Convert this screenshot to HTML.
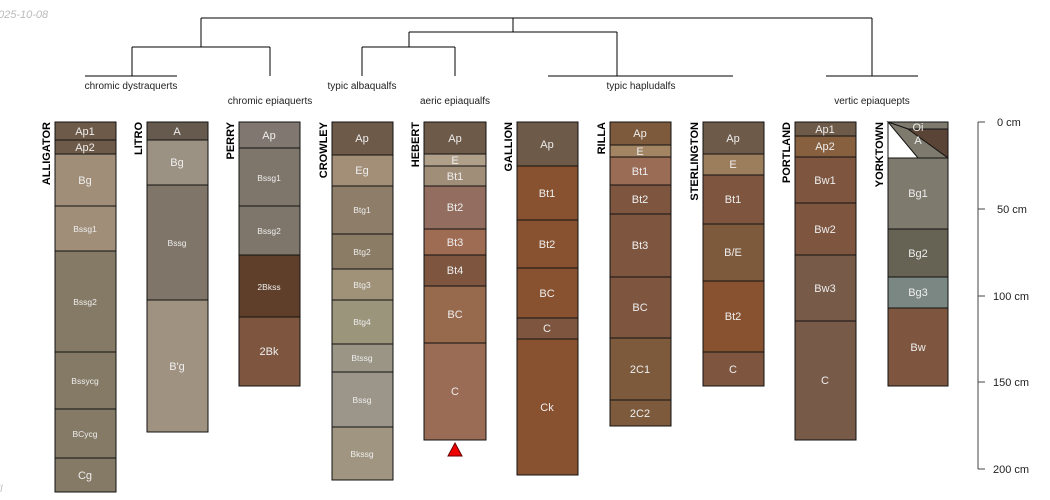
<!DOCTYPE html>
<html><head><meta charset="utf-8"><style>
body{margin:0;background:#fff}
svg{display:block;font-family:"Liberation Sans",sans-serif}
.h rect{stroke:#111;stroke-width:1}
.t{fill:#eee;font-size:11px;text-anchor:middle}
.s{fill:#eee;font-size:8.5px;text-anchor:middle}
.n{font-size:11px;font-weight:bold;text-anchor:end;fill:#000}
.d{stroke:#000;stroke-width:1;fill:none}
.lab{font-size:10px;text-anchor:middle;fill:#222}
</style></head><body>
<svg width="1050" height="500" viewBox="0 0 1050 500">
<text x="-2" y="18" font-size="11" font-style="italic" fill="#bbb">025-10-08</text>
<text x="-2" y="492" font-size="10" font-style="italic" fill="#bbb">ll</text>
<!-- dendrogram -->
<path class="d" d="M201 18H872M201 18V47M132 47H270M132 47V76M85 76H177M270 47V76M513 18V32M409 32H617M409 32V47M362 47H455M362 47V76M455 47V76M617 32V76M548 76H733M872 18V76M826 76H918"/>
<text class="lab" x="131" y="89">chromic dystraquerts</text>
<text class="lab" x="270" y="104">chromic epiaquerts</text>
<text class="lab" x="362" y="89">typic albaqualfs</text>
<text class="lab" x="455" y="104">aeric epiaqualfs</text>
<text class="lab" x="641" y="89">typic hapludalfs</text>
<text class="lab" x="872" y="104">vertic epiaquepts</text>
<!-- axis -->
<path d="M978 122V469M978 122H985M978 209H985M978 296H985M978 382H985M978 469H985" stroke="#444" fill="none"/>
<g font-size="11" fill="#222"><text x="997" y="126">0 cm</text><text x="997" y="213">50 cm</text><text x="993" y="300">100 cm</text><text x="993" y="386">150 cm</text><text x="993" y="473">200 cm</text></g>
<!-- names -->
<g class="n">
<text transform="translate(50,122) rotate(-90)">ALLIGATOR</text>
<text transform="translate(142,122) rotate(-90)">LITRO</text>
<text transform="translate(234,122) rotate(-90)">PERRY</text>
<text transform="translate(327,122) rotate(-90)">CROWLEY</text>
<text transform="translate(419,122) rotate(-90)">HEBERT</text>
<text transform="translate(512,122) rotate(-90)">GALLION</text>
<text transform="translate(605,122) rotate(-90)">RILLA</text>
<text transform="translate(698,122) rotate(-90)">STERLINGTON</text>
<text transform="translate(790,122) rotate(-90)">PORTLAND</text>
<text transform="translate(883,122) rotate(-90)">YORKTOWN</text>
</g>
<g class="h">
<!-- ALLIGATOR -->
<rect x="55" y="122" width="61" height="18" fill="#6e5a48"/>
<rect x="55" y="140" width="61" height="14" fill="#6e5a48"/>
<rect x="55" y="154" width="61" height="52" fill="#a08e79"/>
<rect x="55" y="206" width="61" height="45" fill="#a08e79"/>
<rect x="55" y="251" width="61" height="101" fill="#857a65"/>
<rect x="55" y="352" width="61" height="57" fill="#857a65"/>
<rect x="55" y="409" width="61" height="49" fill="#857a65"/>
<rect x="55" y="458" width="61" height="34" fill="#857a65"/>
<!-- LITRO -->
<rect x="147" y="122" width="61" height="18" fill="#665a4e"/>
<rect x="147" y="140" width="61" height="45" fill="#9c9284"/>
<rect x="147" y="185" width="61" height="115" fill="#7f7569"/>
<rect x="147" y="300" width="61" height="132" fill="#a09280"/>
<!-- PERRY -->
<rect x="239" y="122" width="61" height="26" fill="#807870"/>
<rect x="239" y="148" width="61" height="58" fill="#7f766b"/>
<rect x="239" y="206" width="61" height="49" fill="#7f766b"/>
<rect x="239" y="255" width="61" height="62" fill="#603f2a"/>
<rect x="239" y="317" width="61" height="69" fill="#7e5640"/>
<!-- CROWLEY -->
<rect x="332" y="122" width="61" height="33" fill="#6e5a48"/>
<rect x="332" y="155" width="61" height="31" fill="#a38f78"/>
<rect x="332" y="186" width="61" height="48" fill="#8e7d68"/>
<rect x="332" y="234" width="61" height="35" fill="#8b7c65"/>
<rect x="332" y="269" width="61" height="31" fill="#a09279"/>
<rect x="332" y="300" width="61" height="44" fill="#9b957c"/>
<rect x="332" y="344" width="61" height="28" fill="#9a9585"/>
<rect x="332" y="372" width="61" height="55" fill="#9c968a"/>
<rect x="332" y="427" width="61" height="53" fill="#a09580"/>
<!-- HEBERT -->
<rect x="424" y="122" width="62" height="32" fill="#6e5a48"/>
<rect x="424" y="154" width="62" height="12" fill="#b0a08a"/>
<rect x="424" y="166" width="62" height="20" fill="#a08e79"/>
<rect x="424" y="186" width="62" height="43" fill="#936e60"/>
<rect x="424" y="229" width="62" height="26" fill="#9e6b53"/>
<rect x="424" y="255" width="62" height="31" fill="#7e5640"/>
<rect x="424" y="286" width="62" height="57" fill="#97694d"/>
<rect x="424" y="343" width="62" height="97" fill="#9a6b55"/>
<!-- GALLION -->
<rect x="517" y="122" width="61" height="44" fill="#6e5a48"/>
<rect x="517" y="166" width="61" height="54" fill="#885230"/>
<rect x="517" y="220" width="61" height="48" fill="#885230"/>
<rect x="517" y="268" width="61" height="50" fill="#885230"/>
<rect x="517" y="318" width="61" height="21" fill="#7e5640"/>
<rect x="517" y="339" width="61" height="136" fill="#885230"/>
<!-- RILLA -->
<rect x="610" y="122" width="61" height="23" fill="#7e5a3c"/>
<rect x="610" y="145" width="61" height="12" fill="#a38463"/>
<rect x="610" y="157" width="61" height="28" fill="#9a6b55"/>
<rect x="610" y="185" width="61" height="29" fill="#7e5640"/>
<rect x="610" y="214" width="61" height="63" fill="#7e5640"/>
<rect x="610" y="277" width="61" height="61" fill="#7e5640"/>
<rect x="610" y="338" width="61" height="62" fill="#7e5a3c"/>
<rect x="610" y="400" width="61" height="26" fill="#7e5a3c"/>
<!-- STERLINGTON -->
<rect x="703" y="122" width="61" height="32" fill="#6e5a48"/>
<rect x="703" y="154" width="61" height="21" fill="#9c7d5c"/>
<rect x="703" y="175" width="61" height="49" fill="#7e5640"/>
<rect x="703" y="224" width="61" height="57" fill="#7e5a3c"/>
<rect x="703" y="281" width="61" height="71" fill="#885230"/>
<rect x="703" y="352" width="61" height="34" fill="#7e5640"/>
<!-- PORTLAND -->
<rect x="795" y="122" width="61" height="14" fill="#6e5a48"/>
<rect x="795" y="136" width="61" height="21" fill="#876040"/>
<rect x="795" y="157" width="61" height="46" fill="#7e5640"/>
<rect x="795" y="203" width="61" height="52" fill="#7e5640"/>
<rect x="795" y="255" width="61" height="66" fill="#785a48"/>
<rect x="795" y="321" width="61" height="119" fill="#785a48"/>
<!-- YORKTOWN -->
<rect x="888" y="122" width="60" height="36" fill="#fff"/>
<rect x="888" y="158" width="60" height="71" fill="#7f7a6e"/>
<rect x="888" y="229" width="60" height="48" fill="#666254"/>
<rect x="888" y="277" width="60" height="31" fill="#7b8783"/>
<rect x="888" y="308" width="60" height="78" fill="#7e5640"/>
</g>
<polygon points="888,122 948,122 948,129 908,129" fill="#7f7a6e" stroke="#111"/>
<polygon points="888,122 908,129 948,129 948,158 918,158" fill="#7f7a6e" stroke="#111"/>
<polygon points="908,129 948,129 948,158" fill="#5a4436" stroke="#111"/>
<path d="M888 158H948" stroke="#111"/>
<polygon points="448,456 462,456 455,443" fill="#e00" stroke="#600"/>
<!-- labels -->
<g class="t">
<text x="85" y="135">Ap1</text><text x="85" y="151">Ap2</text><text x="85" y="184">Bg</text>
<text x="177" y="135">A</text><text x="177" y="166">Bg</text><text x="177" y="370">B'g</text>
<text x="269" y="139">Ap</text><text x="269" y="355">2Bk</text>
<text x="362" y="142">Ap</text><text x="362" y="174">Eg</text>
<text x="455" y="142">Ap</text><text x="455" y="164">E</text><text x="455" y="180">Bt1</text><text x="455" y="211">Bt2</text><text x="455" y="246">Bt3</text><text x="455" y="274">Bt4</text><text x="455" y="318">BC</text><text x="455" y="395">C</text>
<text x="547" y="148">Ap</text><text x="547" y="197">Bt1</text><text x="547" y="248">Bt2</text><text x="547" y="297">BC</text><text x="547" y="332">C</text><text x="547" y="411">Ck</text>
<text x="640" y="137">Ap</text><text x="640" y="155">E</text><text x="640" y="175">Bt1</text><text x="640" y="203">Bt2</text><text x="640" y="249">Bt3</text><text x="640" y="311">BC</text><text x="640" y="373">2C1</text><text x="640" y="417">2C2</text>
<text x="733" y="142">Ap</text><text x="733" y="168">E</text><text x="733" y="203">Bt1</text><text x="733" y="256">B/E</text><text x="733" y="320">Bt2</text><text x="733" y="373">C</text>
<text x="825" y="133">Ap1</text><text x="825" y="150">Ap2</text><text x="825" y="184">Bw1</text><text x="825" y="233">Bw2</text><text x="825" y="292">Bw3</text><text x="825" y="384">C</text>
<text x="918" y="131">Oi</text><text x="918" y="144">A</text><text x="918" y="197">Bg1</text><text x="918" y="257">Bg2</text><text x="918" y="296">Bg3</text><text x="918" y="351">Bw</text>
</g>
<g class="s">
<text x="85" y="232">Bssg1</text><text x="85" y="305">Bssg2</text><text x="85" y="384">Bssycg</text><text x="85" y="437">BCycg</text>
<text x="177" y="246">Bssg</text>
<text x="269" y="181">Bssg1</text><text x="269" y="234">Bssg2</text><text x="269" y="290">2Bkss</text>
<text x="362" y="213">Btg1</text><text x="362" y="255">Btg2</text><text x="362" y="288">Btg3</text><text x="362" y="325">Btg4</text><text x="362" y="361">Btssg</text><text x="362" y="403">Bssg</text><text x="362" y="457">Bkssg</text>
</g>
<g class="t"><text x="85" y="479">Cg</text></g>
</svg>
</body></html>
